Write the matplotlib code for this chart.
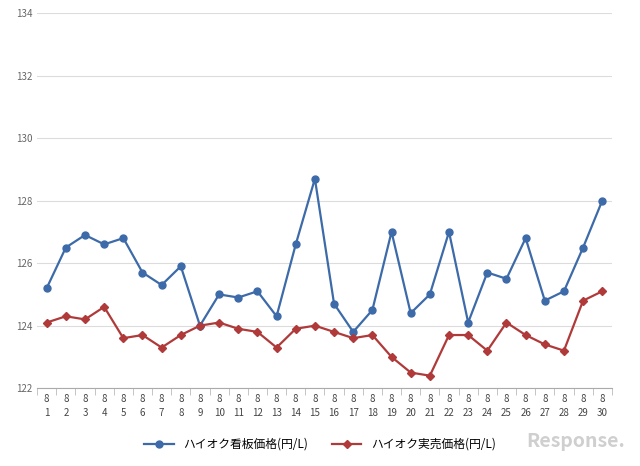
import matplotlib
matplotlib.use("Agg")
import matplotlib.pyplot as plt

days = list(range(1, 31))
labels = [f"8\n{d}" for d in days]
kanban = [125.2,126.5,126.9,126.6,126.8,125.7,125.3,125.9,124.0,125.0,124.9,125.1,124.3,126.6,128.7,
          124.7,123.8,124.5,127.0,124.4,125.0,127.0,124.1,125.7,125.5,126.8,124.8,125.1,126.5,128.0]
jitsubai = [124.1,124.3,124.2,124.6,123.6,123.7,123.3,123.7,124.0,124.1,123.9,123.8,123.3,123.9,124.0,
            123.8,123.6,123.7,123.0,122.5,122.4,123.7,123.7,123.2,124.1,123.7,123.4,123.2,124.8,125.1]

plt.rcParams["font.family"] = ["Noto Sans CJK JP"]
fig = plt.figure(figsize=(6.4, 4.66), dpi=100)
ax = fig.add_axes([0.058, 0.167, 0.898, 0.805])
x = list(range(len(days)))
ax.plot(x, kanban, color="#3d6aa8", marker="o", ms=5, lw=1.6, label="ハイオク看板価格(円/L)")
ax.plot(x, jitsubai, color="#b03a3a", marker="D", ms=4, lw=1.6, label="ハイオク実売価格(円/L)")
ax.set_xlim(-0.5, len(days) - 0.5)
ax.set_ylim(122, 134)
ax.set_yticks(range(122, 135, 2))
ax.set_xticks(x)
ax.set_xticklabels(labels, fontsize=7, color="#444", linespacing=1.5)
ax.set_xticks([i - 0.5 for i in range(len(days) + 1)], minor=True)
ax.tick_params(axis="x", which="major", length=0, pad=4)
ax.tick_params(axis="x", which="minor", length=5, color="#bbb")
ax.tick_params(axis="y", length=0, labelsize=7, labelcolor="#666")
ax.grid(axis="y", color="#dcdcdc", lw=0.8)
ax.set_axisbelow(True)
for s in ["top", "right", "left"]:
    ax.spines[s].set_visible(False)
ax.spines["bottom"].set_color("#aaa")
fig.legend(loc="lower center", bbox_to_anchor=(0.5, 0.01), ncol=2, frameon=False, fontsize=8.5,
           handlelength=2.5, columnspacing=2)
fig.text(0.9, 0.04, "Response.", fontsize=14, color="#cfcfcf", style="italic", ha="center", fontweight="bold")
fig.savefig("out.png")
